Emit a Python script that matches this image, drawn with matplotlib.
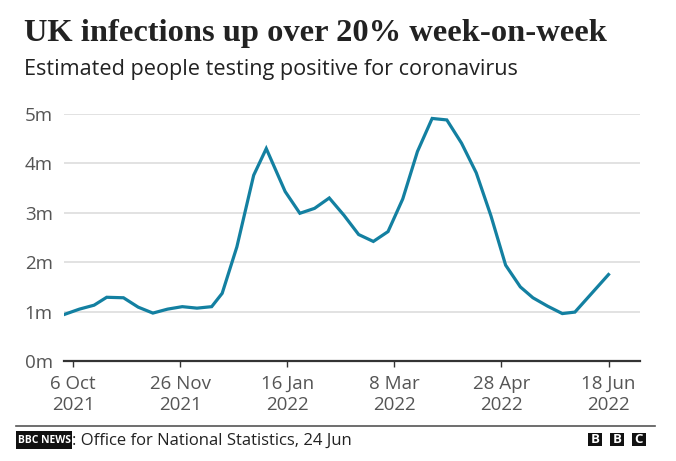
import matplotlib
matplotlib.use('Agg')
import matplotlib.pyplot as plt
from matplotlib.patches import Rectangle
import pandas as pd

# data - ONS estimated people testing positive (UK), millions ################
week_ending = ['2021-10-02', '2021-10-09', '2021-10-16', '2021-10-22', '2021-10-30',
               '2021-11-06', '2021-11-13', '2021-11-20', '2021-11-27', '2021-12-04',
               '2021-12-11', '2021-12-16', '2021-12-23', '2021-12-31', '2022-01-06',
               '2022-01-15', '2022-01-22', '2022-01-29', '2022-02-05', '2022-02-12',
               '2022-02-19', '2022-02-26', '2022-03-05', '2022-03-12', '2022-03-19',
               '2022-03-26', '2022-04-02', '2022-04-09', '2022-04-16', '2022-04-23',
               '2022-04-30', '2022-05-07', '2022-05-13', '2022-05-20', '2022-05-27',
               '2022-06-02', '2022-06-18']
infections_m = [0.945, 1.05, 1.13, 1.29, 1.28, 1.09, 0.97, 1.05, 1.10, 1.07,
                1.10, 1.37, 2.31, 3.76, 4.30, 3.43, 2.99, 3.09, 3.30, 2.95,
                2.56, 2.42, 2.62, 3.28, 4.24, 4.91, 4.88, 4.41, 3.81, 2.94,
                1.94, 1.50, 1.28, 1.11, 0.96, 0.99, 1.75]

tick_dates = ['2021-10-06', '2021-11-26', '2022-01-16', '2022-03-08', '2022-04-28', '2022-06-18']
tick_labels = ['6 Oct\n2021', '26 Nov\n2021', '16 Jan\n2022', '8 Mar\n2022', '28 Apr\n2022', '18 Jun\n2022']
y_ticks = [0, 1, 2, 3, 4, 5]
y_labels = ['0m', '1m', '2m', '3m', '4m', '5m']

title = 'UK infections up over 20% week-on-week'
subtitle = 'Estimated people testing positive for coronavirus'
source = ': Office for National Statistics, 24 Jun'
###############################################################################

sans = ['Open Sans', 'DejaVu Sans']
line_colour = '#1380A1'
grey = '#555555'

x = pd.to_datetime(week_ending)

fig = plt.figure(figsize=(6.76, 4.61), dpi=100)
ax = fig.add_axes([64/676, 1 - 361/461, (640-64)/676, (361-114)/461])

ax.plot(x, infections_m, color=line_colour, lw=2.3, solid_joinstyle='miter', zorder=3)

ax.set_ylim(0, 5)
ax.set_yticks(y_ticks)
ax.set_yticklabels(y_labels, family=sans, fontsize=13.5, color=grey)
ax.set_xticks(pd.to_datetime(tick_dates))
ax.set_xticklabels(tick_labels, family=sans, fontsize=13.5, color=grey, linespacing=1.25)
ax.set_xlim(pd.Timestamp('2021-10-01 16:00'), pd.Timestamp('2022-07-03'))

ax.grid(axis='y', color='#dddddd', lw=1.2, zorder=0)
for s in ['top', 'right', 'left']:
    ax.spines[s].set_visible(False)
ax.spines['bottom'].set_color('#333333')
ax.spines['bottom'].set_linewidth(1.6)
ax.tick_params(axis='y', length=0, pad=8)
ax.tick_params(axis='x', length=4, width=1, color='#333333', pad=6)

# title and subtitle
fig.text(24/676, 1 - 41/461, title, family=['Liberation Serif', 'DejaVu Serif'],
         fontweight='bold', fontsize=23.4, color='#222222', va='baseline')
fig.text(24/676, 1 - 75/461, subtitle, family=sans, fontsize=15.6, color='#222222', va='baseline')

# footer
fig.add_artist(plt.Line2D([16/676, 655/676], [1 - 425.5/461, 1 - 425.5/461],
                          color='#555555', lw=1.2, transform=fig.transFigure))
fig.text(72/676, 1 - 445/461, source, family=sans, fontsize=12, color='#222222', va='baseline')
fig.add_artist(Rectangle((16/676, 1 - 449/461), 56/676, 18/461, transform=fig.transFigure,
                         facecolor='#111111', edgecolor='none'))
fig.text(44/676, 1 - 440/461, 'BBC NEWS', family=sans, fontsize=7.5, color='white',
         ha='center', va='center', fontweight='bold')
for i, letter in enumerate(['B', 'B', 'C']):
    x0 = 588 + i * 22
    fig.add_artist(Rectangle((x0/676, 1 - 446/461), 13.5/676, 13.5/461, transform=fig.transFigure,
                             facecolor='#111111', edgecolor='none'))
    fig.text((x0 + 6.75)/676, 1 - 439.2/461, letter, family=sans, fontsize=9.5, color='white',
             ha='center', va='center', fontweight='bold')

plt.savefig('out.png', dpi=100)
